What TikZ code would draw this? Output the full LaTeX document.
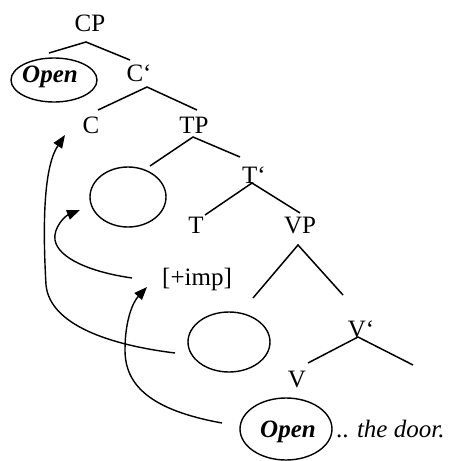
\documentclass[tikz,border=0pt]{standalone}
\usepackage{fontspec}
\setmainfont{Liberation Serif}
\usetikzlibrary{arrows.meta}
\begin{document}
\begin{tikzpicture}[x=1pt,y=-1pt,
  lbl/.style={anchor=base,inner sep=0pt,font=\fontsize{25}{28}\selectfont},
  branch/.style={line width=1.5pt},
  oval/.style={line width=1.4pt},
  mv/.style={line width=1.4pt,-{Triangle[length=13pt,width=10pt]}}]
\useasboundingbox (0,0) rectangle (460,461);
% labels
\node[lbl] (cp) at (90,31) {CP};
\node[lbl] (cbar) at (139,81) {C`};
\node[lbl] (c) at (91,133) {C};
\node[lbl] (tp) at (194,133) {TP};
\node[lbl] (tbar) at (254,183) {T`};
\node[lbl] (t) at (196,233) {T};
\node[lbl] (vp) at (300,233) {VP};
\node[lbl] (imp) at (197,285) {[+imp]};
\node[lbl] (vbar) at (361,337) {V`};
\node[lbl] (v) at (297,387) {V};
\node[lbl] (open1) at (50,82) {\textbf{\textit{Open}}};
\node[lbl] (open2) at (288,437) {\textbf{\textit{Open}}};
\node[lbl,anchor=base west] (door) at (336,437) {.. \textit{the door.}};
% ellipses
\draw[oval] (54,80) ellipse [x radius=43, y radius=22];
\draw[oval] (128,197) ellipse [x radius=38, y radius=30];
\draw[oval] (229,342) ellipse [x radius=41, y radius=30];
\draw[oval] (286,429) ellipse [x radius=46, y radius=31];
% branch points
\coordinate (cpA) at (86,42); \coordinate (cpL) at (49,53); \coordinate (cpR) at (130,60);
\coordinate (cbA) at (147,87); \coordinate (cbL) at (98,110); \coordinate (cbR) at (197,110);
\coordinate (tpA) at (193,137); \coordinate (tpL) at (150,166); \coordinate (tpR) at (240,157);
\coordinate (tbA) at (252,183); \coordinate (tbL) at (205,215); \coordinate (tbR) at (300,213);
\coordinate (vpA) at (298,245); \coordinate (vpL) at (253,298); \coordinate (vpR) at (343,295);
\coordinate (vbA) at (358,337); \coordinate (vbL) at (308,363); \coordinate (vbR) at (413,365);
\draw[branch] (cpL) -- (cpA) -- (cpR);
\draw[branch] (cbL) -- (cbA) -- (cbR);
\draw[branch] (tpL) -- (tpA) -- (tpR);
\draw[branch] (tbL) -- (tbA) -- (tbR);
\draw[branch] (vpL) -- (vpA) -- (vpR);
\draw[branch] (vbL) -- (vbA) -- (vbR);
% movement arrows
\coordinate (a1s) at (175,353); \coordinate (a1e) at (65,135);
\coordinate (a2s) at (132,278); \coordinate (a2e) at (80,210);
\coordinate (a3s) at (222,423); \coordinate (a3e) at (147,287);
\draw[mv] (a1s) .. controls (110,345) and (50,325) .. (46,285) .. controls (42,215) and (45,165) .. (a1e);
\draw[mv] (a2s) .. controls (90,272) and (58,258) .. (55,240) .. controls (53,228) and (65,216) .. (a2e);
\draw[mv] (a3s) .. controls (150,410) and (125,385) .. (125,350) .. controls (125,320) and (133,302) .. (a3e);
\end{tikzpicture}
\end{document}
